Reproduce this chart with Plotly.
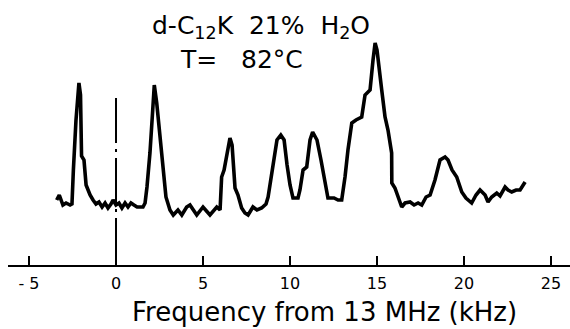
import plotly.graph_objects as go

# Spectrum: frequency offset (kHz) and intensity (arb. units)
freq_khz = [-3.41, -3.26, -3.05, -2.87, -2.64, -2.53, -2.45, -2.30, -2.13, -2.04,
            -1.98, -1.84, -1.72, -1.61, -1.49, -1.32, -1.15, -0.98, -0.80, -0.63,
            -0.46, -0.29, -0.17, 0.00, 0.17, 0.34, 0.52, 0.69, 0.86, 1.03,
            1.21, 1.55, 1.67, 1.78, 1.95, 2.11, 2.20, 2.34, 2.53, 2.72,
            2.87, 3.10, 3.29, 3.56, 3.78, 4.06, 4.25, 4.64, 5.00, 5.40,
            5.79, 5.98, 6.07, 6.21, 6.55, 6.67, 6.84, 7.01, 7.22, 7.41,
            7.59, 7.87, 8.10, 8.37, 8.62, 8.74, 8.97, 9.25, 9.47, 9.66,
            9.83, 10.00, 10.17, 10.46, 10.57, 10.75, 10.96, 11.15, 11.30, 11.55,
            11.78, 12.01, 12.18, 12.53, 12.76, 12.97, 13.16, 13.33, 13.55, 13.79,
            13.97, 14.12, 14.31, 14.60, 14.77, 14.89, 15.00, 15.17, 15.27, 15.46,
            15.63, 15.84, 15.85, 16.03, 16.22, 16.42, 16.61, 16.90, 17.13, 17.36,
            17.57, 17.82, 18.05, 18.33, 18.62, 18.91, 19.08, 19.31, 19.58, 19.87,
            20.11, 20.44, 20.69, 20.92, 21.21, 21.38, 21.59, 21.88, 22.07, 22.36,
            22.53, 22.74, 22.99, 23.22, 23.51]
intensity = [65, 70, 60, 62, 60, 61, 95, 145, 182, 170,
             109, 105, 80, 75, 70, 65, 61, 63, 58, 62,
             57, 61, 65, 60, 62, 57, 62, 58, 62, 60,
             58, 58, 62, 78, 112, 155, 180, 162, 128, 95,
             68, 55, 50, 55, 50, 58, 60, 50, 58, 50,
             58, 55, 88, 95, 127, 120, 77, 70, 57, 52,
             50, 58, 55, 57, 61, 68, 95, 125, 130, 125,
             100, 80, 67, 67, 75, 95, 98, 125, 133, 125,
             105, 80, 67, 67, 65, 65, 88, 115, 142, 145,
             147, 148, 170, 175, 205, 222, 215, 185, 175, 148,
             135, 112, 82, 77, 68, 58, 62, 63, 60, 62,
             60, 68, 70, 85, 105, 108, 105, 95, 88, 73,
             67, 62, 70, 75, 70, 63, 68, 72, 69, 78,
             75, 73, 75, 75, 83]

tick_vals = [-5, 0, 5, 10, 15, 20, 25]
tick_text = ["- 5", "0", "5", "10", "15", "20", "25"]
zero_marker_top = 167

FONT = "DejaVu Sans"

fig = go.Figure()
fig.add_trace(go.Scatter(
    x=freq_khz, y=intensity, mode="lines",
    line=dict(color="black", width=3.6, shape="linear"),
    hoverinfo="skip", showlegend=False,
))

fig.add_shape(type="line", xref="x", yref="y",
              x0=0, x1=0, y0=zero_marker_top, y1=0,
              line=dict(color="black", width=2, dash="45px,6px,3px,6px"))

fig.add_annotation(text="d-C<sub>12</sub>K  21%  H<sub>2</sub>O", xref="paper", yref="paper",
                   x=0.2527, y=0.898, xanchor="left", yanchor="middle", showarrow=False,
                   font=dict(family=FONT, size=25, color="black"))
fig.add_annotation(text="T=   82°C", xref="paper", yref="paper",
                   x=0.3025, y=0.774, xanchor="left", yanchor="middle", showarrow=False,
                   font=dict(family=FONT, size=25, color="black"))
fig.add_annotation(text="Frequency from 13 MHz (kHz)", xref="paper", yref="paper",
                   x=0.564, y=-0.177, xanchor="center", yanchor="middle", showarrow=False,
                   font=dict(family=FONT, size=26, color="black"))

fig.update_layout(
    width=570, height=329,
    margin=dict(l=8, r=0, t=0, b=64),
    paper_bgcolor="white", plot_bgcolor="white",
    xaxis=dict(range=[-6.207, 26.09], showline=True, linecolor="black", linewidth=2,
               ticks="inside", ticklen=9, tickwidth=2, tickcolor="black",
               tickvals=tick_vals, ticktext=tick_text, ticklabelstandoff=3,
               tickfont=dict(family=FONT, size=16, color="black"),
               showgrid=False, zeroline=False, fixedrange=True),
    yaxis=dict(range=[0, 265], visible=False, fixedrange=True),
)

fig.write_html("out.html")
